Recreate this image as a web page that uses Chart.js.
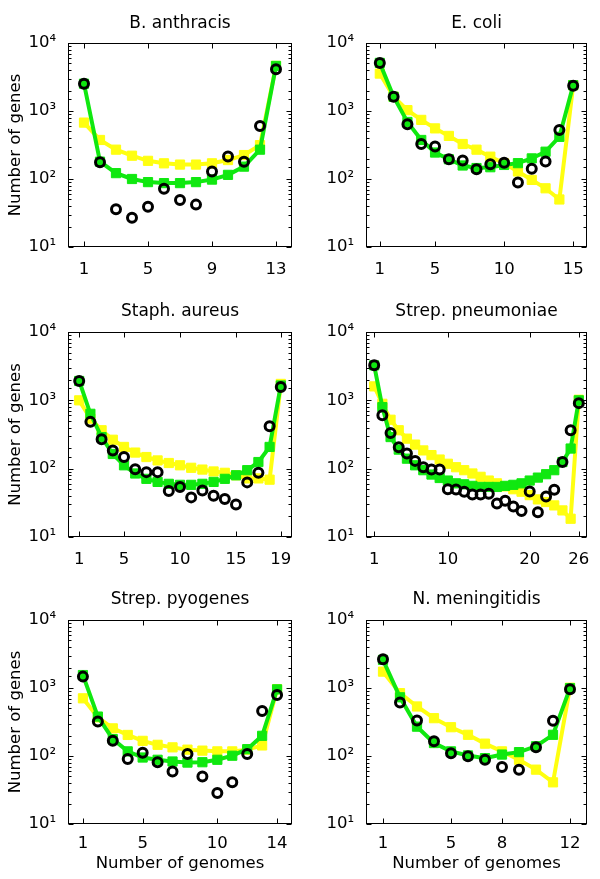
<!DOCTYPE html>
<html><head><meta charset="utf-8">
<script src="https://cdn.jsdelivr.net/npm/chart.js@4.4.1/dist/chart.umd.min.js"></script>
<style>
body{margin:0;background:#fff;width:600px;height:879px;position:relative;overflow:hidden}
canvas{position:absolute}
</style></head><body>
<canvas id="p0" width="300" height="290" style="left:0;top:0"></canvas>
<canvas id="p1" width="300" height="290" style="left:300px;top:0"></canvas>
<canvas id="p2" width="300" height="290" style="left:0;top:290px"></canvas>
<canvas id="p3" width="300" height="290" style="left:300px;top:290px"></canvas>
<canvas id="p4" width="300" height="299" style="left:0;top:580px"></canvas>
<canvas id="p5" width="300" height="299" style="left:300px;top:580px"></canvas>
<script>
// ---- data ----
const titles = ['B. anthracis', 'E. coli', 'Staph. aureus', 'Strep. pneumoniae', 'Strep. pyogenes', 'N. meningitidis'];
const yAxisTitle = 'Number of genes';
const xAxisTitle = 'Number of genomes';
const yTickLabels = {10: '10¹', 100: '10²', 1000: '10³', 10000: '10⁴'};

const anthracisYellow = [675, 375, 270, 220, 185, 170, 163, 163, 170, 190, 225, 315, 4600];
const anthracisGreen  = [2520, 180, 122, 100, 90, 87, 87, 90, 98, 115, 152, 270, 4600];
const anthracisBlack  = [2520, 177, 36, 27, 39, 72, 49, 42, 129, 214, 180, 600, 4100];
const anthracisTicks  = [1, 5, 9, 13];

const coliYellow = [3550, 1620, 1030, 740, 555, 430, 327, 270, 213, 170, 129, 97, 73, 50, 2400];
const coliGreen  = [5100, 1620, 690, 375, 245, 195, 158, 145, 149, 161, 171, 201, 252, 417, 2400];
const coliBlack  = [5100, 1620, 640, 327, 300, 195, 187, 139, 165, 174, 89, 141, 181, 525, 2360];
const coliTicks  = [1, 5, 10, 15];

const aureusYellow = [1000, 540, 365, 265, 208, 172, 148, 132, 121, 112, 103, 97, 91, 87, 80, 72, 72, 69, 1740];
const aureusGreen  = [1920, 635, 290, 164, 112, 85, 71, 64, 60, 58, 58, 60, 64, 71, 80, 95, 125, 208, 1650];
const aureusBlack  = [1920, 484, 270, 185, 148, 98, 89, 89, 47, 54, 38, 48, 40, 36, 30, 63, 87, 417, 1570];
const aureusTicks  = [1, 5, 10, 15, 19];

const pneumoniaeYellow = [1600, 890, 520, 365, 275, 225, 185, 158, 136, 118, 105, 95, 85, 76, 67, 61, 55, 50, 46, 41, 35.5, 32.5, 29, 24.5, 18.5, 1020];
const pneumoniaeGreen  = [3250, 795, 290, 190, 140, 112, 95, 82, 73, 67, 61, 59, 56, 54, 54, 54, 56, 58, 61, 67, 74, 83, 95, 125, 197, 1000];
const pneumoniaeBlack  = [3250, 605, 333, 205, 167, 130, 105, 97, 97, 50, 49.5, 46, 42, 42, 43, 31, 34, 28, 24, 46.5, 23, 39, 49, 125, 365, 910];
const pneumoniaeTicks  = [1, 10, 20, 26];

const pyogenesYellow = [705, 370, 255, 204, 167, 146, 134, 124, 120, 117, 117, 124, 143, 960];
const pyogenesGreen  = [1550, 380, 177, 117, 95, 88, 83, 80, 81, 88, 101, 126, 198, 955];
const pyogenesBlack  = [1470, 321, 167, 90, 112, 81, 59, 107, 50, 28.5, 41, 107, 460, 790];
const pyogenesTicks  = [1, 5, 10, 14];

const meningitidisYellow = [1740, 840, 535, 360, 265, 205, 152, 117, 88, 63, 41, 1010];
const meningitidisGreen  = [2590, 730, 270, 155, 117, 102, 93, 105, 114, 139, 205, 995];
const meningitidisBlack  = [2650, 614, 333, 165, 110, 99, 88, 69, 63, 134, 330, 955];
const meningitidisTicks  = [1, 5, 8, 12];

const xMaxes = [14, 16, 20, 27, 15, 13];

// ---- build ----
const panels = [
  [anthracisYellow, anthracisGreen, anthracisBlack, anthracisTicks],
  [coliYellow, coliGreen, coliBlack, coliTicks],
  [aureusYellow, aureusGreen, aureusBlack, aureusTicks],
  [pneumoniaeYellow, pneumoniaeGreen, pneumoniaeBlack, pneumoniaeTicks],
  [pyogenesYellow, pyogenesGreen, pyogenesBlack, pyogenesTicks],
  [meningitidisYellow, meningitidisGreen, meningitidisBlack, meningitidisTicks]
];

const FONT = "'DejaVu Sans', sans-serif";
Chart.defaults.font.family = FONT;
Chart.defaults.color = '#000';

const frame = {
  id: 'frame',
  afterDatasetsDraw(chart, args, opts) {
    const {ctx, chartArea: a, scales: {x, y}} = chart;
    ctx.save();
    ctx.strokeStyle = '#000';
    ctx.lineWidth = 1;
    const L = Math.round(a.left) + 0.5, R = Math.round(a.right) - 0.5;
    const T = Math.round(a.top) + 0.5, B = Math.round(a.bottom) - 0.5;
    ctx.strokeRect(L, T, R - L, B - T);
    ctx.beginPath();
    y.ticks.forEach(t => {
      const py = Math.round(y.getPixelForValue(t.value)) + 0.5;
      const e = Math.log10(t.value);
      const major = Math.abs(e - Math.round(e)) < 1e-9;
      const len = major ? 5 : 3;
      ctx.moveTo(L, py); ctx.lineTo(L + len, py);
      ctx.moveTo(R, py); ctx.lineTo(R - len, py);
    });
    x.ticks.forEach(t => {
      const px = Math.round(x.getPixelForValue(t.value)) + 0.5;
      ctx.moveTo(px, B); ctx.lineTo(px, B - 5);
      ctx.moveTo(px, T); ctx.lineTo(px, T + 5);
    });
    ctx.stroke();
    // panel title, centred over the plot box
    ctx.fillStyle = '#000';
    ctx.font = '17px ' + FONT;
    ctx.textAlign = 'center';
    ctx.textBaseline = 'middle';
    ctx.fillText(opts.text, (a.left + a.right) / 2, opts.y);
    ctx.restore();
  }
};

const rowTop = [43, 42, 40];
const rowTitleY = [24, 22, 20];
const rowTickPad = [5, 5, 2];

panels.forEach((p, i) => {
  const [yel, grn, blk, ticks] = p;
  const col = i % 2, row = Math.floor(i / 2);
  const pts = arr => arr.map((v, k) => ({x: k + 1, y: v}));
  const yWidth = col === 0 ? 68 : 66;
  const xHeight = row === 2 ? 55 : 43;
  new Chart(document.getElementById('p' + i), {
    type: 'line',
    data: {
      datasets: [
        {data: pts(blk), showLine: false, pointStyle: 'circle', pointRadius: 4.5, pointBorderWidth: 3,
         borderColor: '#000', backgroundColor: 'rgba(0,0,0,0)'},
        {data: pts(grn), borderColor: '#10e810', backgroundColor: '#10e810', borderWidth: 4,
         pointStyle: 'rect', pointRadius: 6.5, pointBorderWidth: 1, tension: 0},
        {data: pts(yel), borderColor: '#ffff10', backgroundColor: '#ffff10', borderWidth: 4,
         pointStyle: 'rect', pointRadius: 6.5, pointBorderWidth: 1, tension: 0}
      ]
    },
    options: {
      responsive: false,
      animation: false,
      events: [],
      clip: false,
      layout: {padding: {left: 0, right: col === 0 ? 8 : 13, top: rowTop[row], bottom: 0}},
      plugins: {
        legend: {display: false},
        tooltip: {enabled: false},
        title: {display: false},
        frame: {text: titles[i], y: rowTitleY[row]}
      },
      scales: {
        x: {
          type: 'linear', min: 0, max: xMaxes[i],
          grid: {display: false}, border: {display: false},
          ticks: {font: {size: 16.5}, padding: rowTickPad[row], autoSkip: false, maxRotation: 0, callback: v => String(v)},
          afterBuildTicks: s => { s.ticks = ticks.map(v => ({value: v})); },
          afterFit: s => { s.height = xHeight; },
          title: {display: row === 2, text: xAxisTitle, font: {size: 16.5}, padding: {top: 0, bottom: 5}}
        },
        y: {
          type: 'logarithmic', min: 10, max: 10000,
          grid: {display: false}, border: {display: false},
          ticks: {font: {size: 16.5}, padding: 4, autoSkip: false,
                  callback: v => yTickLabels[v] || ''},
          afterFit: s => { s.width = yWidth; },
          title: {display: col === 0, text: yAxisTitle, font: {size: 16.5}, padding: {top: 6, bottom: 0}}
        }
      }
    },
    plugins: [frame]
  });
});
</script>
</body></html>
